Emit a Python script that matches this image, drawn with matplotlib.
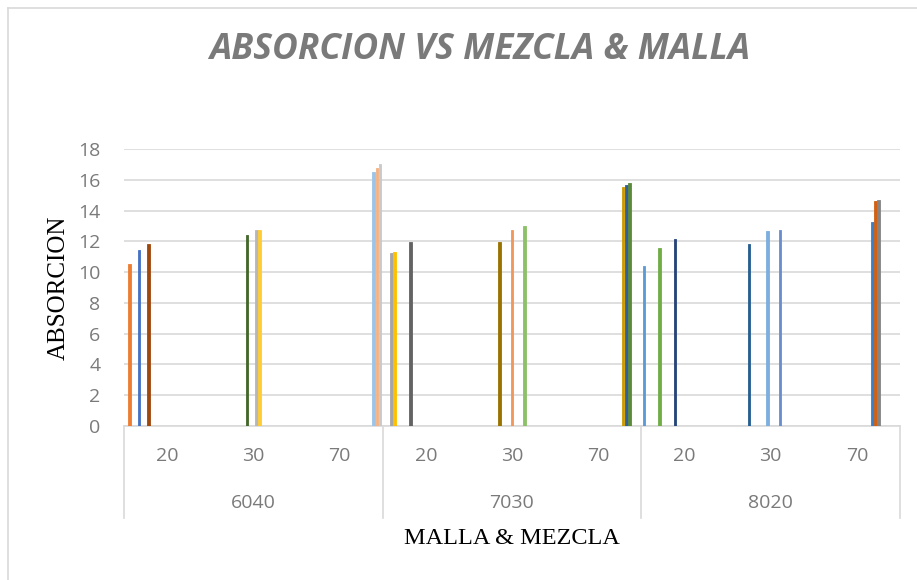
import numpy as np
import matplotlib
matplotlib.use("Agg")
import matplotlib.pyplot as plt
from matplotlib.lines import Line2D

# two-level category axis: MALLA (group) / MEZCLA (sub)
groups = ["6040", "7030", "8020"]
subs = ["20", "30", "70"]

# 27 series, each with a single non-zero value: (category index, value)
series_cat = [6, 0, 3, 3, 0, 6, 7, 0, 3, 4, 6, 1, 7, 4, 1, 1, 7, 4,
              8, 8, 8, 5, 5, 5, 2, 2, 2]
series_val = [10.42, 10.50, 11.24, 11.28, 11.44, 11.55, 11.81, 11.85, 11.96,
              11.96, 12.13, 12.39, 12.65, 12.71, 12.71, 12.73, 12.76, 12.97,
              13.28, 14.60, 14.67, 15.55, 15.64, 15.81, 16.50, 16.78, 17.04]

# Office-like series palette
colors = ["#5B9BD5", "#ED7D31", "#A5A5A5", "#FFC000", "#4472C4", "#70AD47",
          "#255E91", "#9E480E", "#636363", "#997300", "#264478", "#43682B",
          "#7CAFDD", "#F1975A", "#B7B7B7", "#FFCD33", "#698ED0", "#8CC168",
          "#3A7FC8", "#D26012", "#848484", "#CC9A00", "#2E5F9E", "#5A8A3A",
          "#9DC3E6", "#F4B183", "#C9C9C9"]

GRAY = "#7a7a7a"
GRID = "#d9d9d9"

fig = plt.figure(figsize=(9.17, 5.8), dpi=100)
W, H = 917, 580
ax = fig.add_axes([124 / W, (H - 426) / H, (900 - 124) / W, (426 - 149) / H])

n = len(series_val)
gap = 0.7
w = 1.0 / (n + gap)
for i, (c, v) in enumerate(zip(series_cat, series_val)):
    x = c + gap * w / 2 + (i + 0.5) * w
    ax.bar(x, v, width=w * 0.85, color=colors[i], edgecolor=colors[i],
           linewidth=0.6, zorder=3)

n_cat = len(groups) * len(subs)
ax.set_xlim(0, n_cat)
ax.set_ylim(0, 18)
ax.set_yticks(np.arange(0, 19, 2))
ax.yaxis.grid(True, color=GRID, linewidth=1.2, zorder=0)
ax.set_xticks([])
for s in ["top", "right", "left"]:
    ax.spines[s].set_visible(False)
ax.spines["bottom"].set_color(GRID)
ax.spines["bottom"].set_linewidth(1.2)
ax.tick_params(axis="y", length=0, pad=17, labelsize=14, labelcolor=GRAY)
for lab in ax.get_yticklabels():
    lab.set_family("Open Sans")

# two-level category labels
tr = ax.get_xaxis_transform()
for g, gname in enumerate(groups):
    for s, sname in enumerate(subs):
        ax.text(g * 3 + s + 0.5, -0.108, sname, transform=tr, ha="center",
                va="center", fontsize=14, color=GRAY, family="Open Sans")
    ax.text(g * 3 + 1.5, -0.278, gname, transform=tr, ha="center",
            va="center", fontsize=14, color=GRAY, family="Open Sans")
for xd in range(0, n_cat + 1, 3):
    ax.add_line(Line2D([xd, xd], [0, -0.332], transform=tr, color=GRID,
                       linewidth=1.2, clip_on=False))

ax.set_xlabel("MALLA & MEZCLA", family="Liberation Serif", fontsize=17.5,
              color="black")
ax.xaxis.set_label_coords(0.5, -0.37)
ax.set_ylabel("ABSORCION", family="Liberation Serif", fontsize=18,
              color="black")
ax.yaxis.set_label_coords(-0.07, 0.5)

fig.text(480 / W, 1 - 50 / H, "ABSORCION VS MEZCLA & MALLA",
         family="Open Sans", fontsize=25.5,
         fontweight="bold", fontstyle="italic", color=GRAY,
         ha="center", va="center")

# chart outer border
fig.add_artist(Line2D([8 / W, 8 / W], [0, 1 - 8 / H], color=GRID,
                      linewidth=1.2, transform=fig.transFigure))
fig.add_artist(Line2D([8 / W, 1], [1 - 8 / H, 1 - 8 / H], color=GRID,
                      linewidth=1.2, transform=fig.transFigure))

fig.savefig("out.png", dpi=100, facecolor="white")
